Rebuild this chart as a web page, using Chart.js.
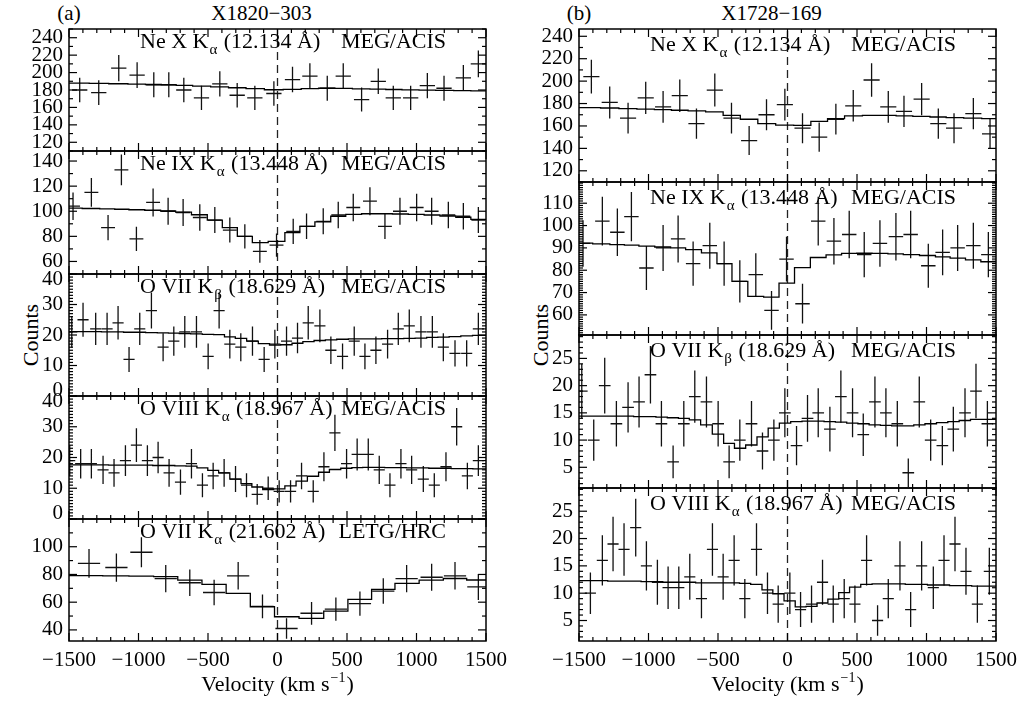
<!DOCTYPE html>
<html><head><meta charset="utf-8">
<script src="https://cdn.jsdelivr.net/npm/chart.js@4.4.1/dist/chart.umd.min.js"></script>
<style>
html,body{margin:0;padding:0;background:#fff;overflow:hidden;width:1026px;height:702px;}
#wrap{position:relative;width:1026px;height:702px;overflow:hidden;}
canvas{position:absolute;}
.t{position:absolute;font-family:'Liberation Serif',serif;font-size:21px;color:#000;white-space:nowrap;transform:translate(-50%,-50%);line-height:1;}
.v{font-size:22px;transform:translate(-50%,-50%) rotate(-90deg);}
</style></head><body><div id="wrap">
<div class="t" style="left:69px;top:13px">(a)</div>
<div class="t" style="left:261.5px;top:13px">X1820&#8722;303</div>
<div class="t" style="left:579px;top:13px">(b)</div>
<div class="t" style="left:771.5px;top:13px">X1728&#8722;169</div>
<div class="t v" style="left:31px;top:335px">Counts</div>
<div class="t v" style="left:541px;top:335px">Counts</div>
</div>
<script>
// ---------------- DATA ----------------
const xTicks = [-1500, -1000, -500, 0, 500, 1000, 1500];

// (a) X1820-303 — Ne X Ka
const A1_vel = [-1423,-1286,-1142,-1010,-890,-782,-674,-547,-415,-290,-163,-26,108,233,358,473,605,725,833,958,1078,1198,1337,1445];
const A1_counts = [180,177,205,197,186,186,180,171,187,174,171,176,192,196,182,196,169,190,171,171,185,182,194,210];
const A1_err = [14.2,14.1,15.1,14.8,14.4,14.4,14.2,13.9,14.5,14,13.9,14.1,14.7,14.8,14.3,14.8,13.8,14.6,13.9,13.9,14.4,14.3,14.7,15.3];
const A1_model = [188,187.6,187.2,186.8,186.3,185.8,185.2,184.5,183.6,182.6,181.5,180.3,180.8,181.6,182,181.8,181.4,181,180.6,180.2,179.9,179.6,179.3,179];
const A1_ticks = [120,140,160,180,200,220,240];

// (a) Ne IX Ka
const A2_vel = [-1471,-1339,-1219,-1123,-1015,-895,-787,-679,-559,-451,-343,-235,-127,-7,113,209,329,437,545,665,773,881,1001,1109,1229,1337,1445];
const A2_counts = [104,115,87,133,78,107,100,99,95,93,85,80,68,73,84,88,92,97,103,108,88,100,103,100,97,96,93];
const A2_err = [11,11.5,10.1,12.3,9.6,11.1,10.8,10.7,10.5,10.4,10,9.7,9,9.3,10,10.2,10.4,10.6,10.9,11.2,10.2,10.8,10.9,10.8,10.6,10.6,10.4];
const A2_model = [102.5,102.2,101.9,101.6,101.2,100.8,100.2,99.3,97.2,93,87,80,75,76,83,88,91.5,96,97.5,98,98,97.8,97.5,97,96.2,95.2,93.5];
const A2_ticks = [60,80,100,120,140];

// (a) O VII Kb
const A3_vel = [-1480,-1399,-1308,-1226,-1147,-1068,-991,-907,-823,-746,-667,-583,-499,-420,-343,-264,-180,-96,-19,65,144,221,305,384,468,552,629,708,792,869,948,1032,1114,1193,1277,1361,1445];
const A3_counts = [21,25,22,22,24,12,22,28,16,18,21,21,13,28,17,16,18,12,17,18,19,24,23,15,13,18,13,15,17,22,23,21,21,16,14,14,22];
const A3_err = [5.2,5.6,5.3,5.3,5.5,4.1,5.3,5.9,4.6,4.8,5.2,5.2,4.2,5.9,4.7,4.6,4.8,4.1,4.7,4.8,5,5.5,5.4,4.5,4.2,4.8,4.2,4.5,4.7,5.3,5.4,5.2,5.2,4.6,4.3,4.3,5.3];
const A3_model = [21.1,21.1,21.1,21,21,20.9,20.9,20.8,20.7,20.6,20.5,20.4,20.2,20.1,19.4,18.9,18,17.2,16.7,16.8,17.3,17.8,18.2,18.4,18.6,18.7,18.7,18.7,18.8,18.8,18.9,19,19.2,19.3,19.5,19.7,19.9];
const A3_ticks = [0,10,20,30,40];

// (a) O VIII Ka
const A4_vel = [-1495,-1416,-1339,-1255,-1176,-1094,-1015,-936,-859,-780,-698,-619,-540,-463,-384,-302,-223,-146,-67,12,94,173,257,334,413,497,573,653,732,809,888,965,1049,1128,1212,1289,1366,1445];
const A4_counts = [19,18,18,16,15,19,24,19,20,15,12,18,11,14,15,13,11,8,10,9,9,14,9,17,28,18,21,21,16,11,18,16,13,11,17,30,14,19];
const A4_err = [5,4.8,4.8,4.6,4.5,5,5.5,5,5.1,4.5,4.1,4.8,3.9,4.3,4.5,4.2,3.9,3.4,3.8,3.6,3.6,4.3,3.6,4.7,5.9,4.8,5.2,5.2,4.6,3.9,4.8,4.6,4.2,3.9,4.7,6.1,4.3,5];
const A4_model = [17.6,17.6,17.6,17.6,17.5,17.5,17.5,17.5,17.4,17.4,17.3,17.2,16.6,15.8,15,13,11.5,10.4,9.6,9.8,10.8,12.3,13.9,15.2,16.1,16.5,16.7,16.8,16.8,16.7,16.7,16.6,16.6,16.5,16.5,16.4,16.4,16.3];
const A4_ticks = [0,10,20,30,40];

// (a) O VII Ka LETG
const A5_vel = [-1356,-1159,-979,-804,-631,-456,-283,-108,65,245,420,593,761,929,1109,1277,1445];
const A5_counts = [88,85,96,77,74,67,79,57,41,52,55,59,68,77,78,79,71];
const A5_err = [10.4,10.2,10.8,9.8,9.6,9.2,9.9,8.5,7.4,8.2,8.4,8.7,9.2,9.8,9.8,9.9,9.4];
const A5_model = [79.2,79,78.8,78.4,75.9,72.8,66.3,56.7,49.5,48.3,53.6,62,69.2,73.5,75.9,77.1,76];
const A5_ticks = [40,60,80,100];

// (b) X1728-169 — Ne X Ka
const B1_vel = [-1411,-1279,-1147,-1020,-895,-775,-655,-523,-403,-276,-151,-19,108,228,348,473,605,725,838,965,1085,1198,1337,1457];
const B1_counts = [204,181,167,185,177,187,162,192,167,147,170,179,158,150,166,178,201,177,173,184,162,158,171,153];
const B1_err = [15.1,14.3,13.7,14.4,14.1,14.5,13.5,14.7,13.7,12.9,13.8,14.2,13.4,13.1,13.7,14.1,15,14.1,14,14.4,13.5,13.4,13.9,13.2];
const B1_model = [176.3,176,175.5,175,174.5,174,173.5,172.5,169.5,166,162,160.8,160.5,164,166.5,169,169.5,169.5,169,168.5,168,167.5,167,166.5];
const B1_ticks = [120,140,160,180,200,220,240];

// (b) Ne IX Ka
const B2_vel = [-1471,-1332,-1224,-1123,-1015,-895,-787,-679,-559,-456,-343,-228,-115,-7,108,221,334,444,552,665,780,886,1013,1116,1224,1337,1445];
const B2_counts = [92,102,97,104,81,90,94,83,91,83,75,78,62,85,65,102,93,96,87,92,95,96,82,88,90,91,87];
const B2_err = [10.4,10.9,10.6,11,9.8,10.3,10.5,9.9,10.3,9.9,9.5,9.6,8.7,10,8.9,10.9,10.4,10.6,10.1,10.4,10.6,10.6,9.9,10.2,10.3,10.3,10.1];
const B2_model = [92.1,91.8,91.5,91.2,90.8,90.4,90,89.2,87.8,83,75,68.3,68,74.2,81.2,85.7,86.9,87.5,87.6,87.5,87.3,87,86.6,86,85.4,84.6,83.8];
const B2_ticks = [60,70,80,90,100,110];

// (b) O VII Kb
const B3_vel = [-1480,-1394,-1315,-1231,-1147,-1068,-986,-907,-823,-746,-667,-583,-499,-420,-343,-259,-180,-98,-19,65,144,221,305,384,468,545,629,708,790,869,948,1030,1114,1193,1277,1356,1438];
const B3_counts = [19,10,20,13,16,17,22,13,6,13,18,17,13,6,10,13,8,10,15,9,14,15,12,18,15,11,17,15,13,4,17,10,9,12,15,19,13];
const B3_err = [5,3.8,5.1,4.2,4.6,4.7,5.3,4.2,3,4.2,4.8,4.7,4.2,3,3.8,4.2,3.4,3.8,4.5,3.6,4.3,4.5,4.1,4.8,4.5,3.9,4.7,4.5,4.2,2.6,4.7,3.8,3.6,4.1,4.5,5,4.2];
const B3_model = [14.4,14.4,14.4,14.4,14.4,14.3,14.3,14.2,14.1,14,13.7,12.8,11.1,9.4,8.5,9.1,10.6,12.2,13.1,13.4,13.5,13.5,13.4,13.3,13.1,13,12.8,12.7,12.6,12.6,12.8,13,13.2,13.4,13.6,13.8,13.8];
const B3_ticks = [5,10,15,20,25];

// (b) O VIII Ka
const B4_vel = [-1418,-1332,-1255,-1176,-1092,-1015,-936,-859,-782,-703,-619,-540,-463,-384,-307,-223,-144,-67,17,94,173,252,329,408,485,569,648,725,809,886,965,1049,1126,1205,1284,1366,1452];
const B4_counts = [10,16,19,18,22,15,12,11,11,13,9,18,13,16,9,18,10,8,10,7,8,12,8,9,8,16,5,9,15,7,15,11,16,19,14,8,14];
const B4_err = [3.8,4.6,5,4.8,5.3,4.5,4.1,3.9,3.9,4.2,3.6,4.8,4.2,4.6,3.6,4.8,3.8,3.4,3.8,3.2,3.4,4.1,3.4,3.6,3.4,4.6,2.8,3.6,4.5,3.2,4.5,3.9,4.6,5,4.3,3.4,4.3];
const B4_model = [12.3,12.3,12.2,12.2,12.2,12.1,12.1,12,12,12,11.9,11.9,11.9,11.9,11.8,11.6,10.6,9.9,8.6,7.5,7.6,8.2,8.9,10.1,11.1,11.6,11.7,11.7,11.7,11.6,11.6,11.5,11.5,11.4,11.4,11.3,11.3];
const B4_ticks = [5,10,15,20,25];

// ---------------- PANELS ----------------
const panels = [
  {col:0,row:0,vel:A1_vel,counts:A1_counts,err:A1_err,model:A1_model,ticks:A1_ticks,ymin:110,ymax:250,minor:10,half:55,label:['Ne X K','\u03b1',' (12.134 \u00c5)','MEG/ACIS']},
  {col:0,row:1,vel:A2_vel,counts:A2_counts,err:A2_err,model:A2_model,ticks:A2_ticks,ymin:50,ymax:148,minor:10,half:50,label:['Ne IX K','\u03b1',' (13.448 \u00c5)','MEG/ACIS']},
  {col:0,row:2,vel:A3_vel,counts:A3_counts,err:A3_err,model:A3_model,ticks:A3_ticks,ymin:0,ymax:40,minor:1,half:40,label:['O VII K','\u03b2',' (18.629 \u00c5)','MEG/ACIS']},
  {col:0,row:3,vel:A4_vel,counts:A4_counts,err:A4_err,model:A4_model,ticks:A4_ticks,ymin:0,ymax:40,minor:1,half:40,label:['O VIII K','\u03b1',' (18.967 \u00c5)','MEG/ACIS']},
  {col:0,row:4,vel:A5_vel,counts:A5_counts,err:A5_err,model:A5_model,ticks:A5_ticks,ymin:32,ymax:120,minor:10,half:80,label:['O VII K','\u03b1',' (21.602 \u00c5)','LETG/HRC']},
  {col:1,row:0,vel:B1_vel,counts:B1_counts,err:B1_err,model:B1_model,ticks:B1_ticks,ymin:110,ymax:246.5,minor:10,half:58,label:['Ne X K','\u03b1',' (12.134 \u00c5)','MEG/ACIS']},
  {col:1,row:1,vel:B2_vel,counts:B2_counts,err:B2_err,model:B2_model,ticks:B2_ticks,ymin:51,ymax:119.5,minor:1,half:52,label:['Ne IX K','\u03b1',' (13.448 \u00c5)','MEG/ACIS']},
  {col:1,row:2,vel:B3_vel,counts:B3_counts,err:B3_err,model:B3_model,ticks:B3_ticks,ymin:1.2,ymax:29.3,minor:1,half:42,label:['O VII K','\u03b2',' (18.629 \u00c5)','MEG/ACIS']},
  {col:1,row:3,vel:B4_vel,counts:B4_counts,err:B4_err,model:B4_model,ticks:B4_ticks,ymin:1.25,ymax:29.25,minor:1,half:40,label:['O VIII K','\u03b1',' (18.967 \u00c5)','MEG/ACIS']}
];

// ---------------- LAYOUT ----------------
const COL_X = [69, 579];
const PLOT_W = 417;
const TOPS = [[29,151,274,396,519,641],[29,182,335,488,641]];
const FONT = "'Liberation Serif', serif";
Chart.defaults.font.family = FONT;
Chart.defaults.color = '#000';

const framePlugin = {
  id: 'frame',
  afterDraw(chart, args, o) {
    const {ctx, chartArea: a, scales: {x, y}} = chart;
    ctx.save();
    ctx.strokeStyle = '#000';
    ctx.lineWidth = 1.2;
    const seg = (x1, y1, x2, y2) => { ctx.beginPath(); ctx.moveTo(x1, y1); ctx.lineTo(x2, y2); ctx.stroke(); };
    for (let k = -15; k <= 15; k++) {
      const px = x.getPixelForValue(k * 100);
      const L = (k % 5 === 0) ? 8 : 4;
      seg(px, a.top, px, a.top + L);
      seg(px, a.bottom, px, a.bottom - L);
    }
    const k0 = Math.ceil(o.ymin / o.minor - 1e-9), k1 = Math.floor(o.ymax / o.minor + 1e-9);
    for (let k = k0; k <= k1; k++) {
      const v = k * o.minor;
      const py = y.getPixelForValue(v);
      const major = o.ticks.some(t => Math.abs(t - v) < 1e-6);
      const L = major ? 8 : 4;
      seg(a.left, py, a.left + L, py);
      seg(a.right, py, a.right - L, py);
    }
    ctx.lineWidth = 1.5;
    ctx.strokeRect(a.left, a.top, a.right - a.left, a.bottom - a.top);
    ctx.fillStyle = '#000';
    ctx.textBaseline = 'middle';
    // panel label
    const [pre, sub, post, instr] = o.label;
    const ly = a.top + (a.bottom - a.top) * 0.105;
    let lx = a.left + 71;
    ctx.textAlign = 'left';
    ctx.font = '22px ' + FONT;
    ctx.fillText(pre, lx, ly); lx += ctx.measureText(pre).width;
    ctx.font = '15px ' + FONT;
    ctx.fillText(sub, lx + 1, ly + 8); lx += ctx.measureText(sub).width + 2;
    ctx.font = '22px ' + FONT;
    ctx.fillText(post, lx, ly);
    ctx.textAlign = 'right';
    ctx.fillText(instr, a.left + 377, ly);
    // x-axis title on bottom panels
    if (o.xtitle) {
      const p1 = 'Velocity (km s', p2 = '\u22121', p3 = ')';
      ctx.font = '22px ' + FONT; const w1 = ctx.measureText(p1).width, w3 = ctx.measureText(p3).width;
      ctx.font = '14px ' + FONT; const w2 = ctx.measureText(p2).width;
      const ty = a.bottom + 44;
      let tx = (a.left + a.right) / 2 - (w1 + w2 + w3 + 2) / 2;
      ctx.textAlign = 'left';
      ctx.font = '22px ' + FONT; ctx.fillText(p1, tx, ty); tx += w1 + 1;
      ctx.font = '14px ' + FONT; ctx.fillText(p2, tx, ty - 7); tx += w2 + 1;
      ctx.font = '22px ' + FONT; ctx.fillText(p3, tx, ty);
    }
    ctx.restore();
  }
};

const wrap = document.getElementById('wrap');
panels.forEach(p => {
  const tops = TOPS[p.col];
  const top = tops[p.row], h = tops[p.row + 1] - top;
  const last = p.row === tops.length - 2;
  const PADT = 20, PADB = last ? 0 : 20, YW = 65, PADR = 35, XH = last ? 60 : 0;
  const W = YW + PLOT_W + PADR, H = PADT + h + PADB + XH;
  const cv = document.createElement('canvas');
  cv.width = W; cv.height = H;
  cv.style.left = (COL_X[p.col] - YW) + 'px';
  cv.style.top = (top - PADT) + 'px';
  cv.style.width = W + 'px'; cv.style.height = H + 'px';
  wrap.appendChild(cv);

  const modelData = [{x: -1500, y: p.model[0]}]
    .concat(p.vel.map((v, i) => ({x: v, y: p.model[i]})))
    .concat([{x: 1500, y: p.model[p.model.length - 1]}]);
  const errData = [];
  p.vel.forEach((v, i) => {
    const c = p.counts[i], e = p.err[i];
    errData.push({x: v, y: c - e}, {x: v, y: c + e}, {x: v, y: null});
    errData.push({x: v - p.half, y: c}, {x: v + p.half, y: c}, {x: v + p.half, y: null});
  });
  const edge = v => (Math.abs(v - p.ymax) < 1e-6) ? 'top' : (Math.abs(v - p.ymin) < 1e-6 ? 'bottom' : null);

  new Chart(cv, {
    type: 'line',
    data: {datasets: [
      {data: modelData, stepped: 'middle', borderColor: '#000', borderWidth: 1.3, pointRadius: 0, fill: false},
      {data: errData, borderColor: '#111', borderWidth: 1.3, pointRadius: 0, spanGaps: false, fill: false, tension: 0},
      {data: [{x: 0, y: p.ymin}, {x: 0, y: p.ymax}], borderColor: '#222', borderWidth: 1.3, borderDash: [8, 5], pointRadius: 0, fill: false}
    ]},
    options: {
      responsive: false, animation: false, devicePixelRatio: 1, events: [],
      layout: {padding: {top: PADT, bottom: PADB, left: 0, right: PADR}},
      plugins: {legend: {display: false}, tooltip: {enabled: false},
        frame: {ymin: p.ymin, ymax: p.ymax, minor: p.minor, ticks: p.ticks, label: p.label, xtitle: last}},
      scales: {
        x: {type: 'linear', min: -1500, max: 1500,
          grid: {display: false, drawTicks: false}, border: {display: false},
          afterBuildTicks: s => { s.ticks = xTicks.map(v => ({value: v})); },
          afterFit: s => { s.height = XH; },
          ticks: {display: last, padding: 7, font: {size: 21, family: FONT}, color: '#000',
            maxRotation: 0, autoSkip: false,
            callback: v => (v < 0 ? '\u2212' + Math.abs(v) : String(v))}
        },
        y: {type: 'linear', min: p.ymin, max: p.ymax,
          grid: {display: false, drawTicks: false}, border: {display: false},
          afterBuildTicks: s => { s.ticks = p.ticks.map(v => ({value: v})); },
          afterFit: s => { s.width = YW; },
          ticks: {padding: 6, color: '#000', autoSkip: false,
            font: ctx => (ctx.tick && edge(ctx.tick.value)) ? {size: 21, family: FONT, lineHeight: '11px'} : {size: 21, family: FONT},
            callback: v => { const e = edge(v); const s = String(v); return e === 'top' ? ['', s] : (e === 'bottom' ? [s, ''] : s); }}
        }
      }
    },
    plugins: [framePlugin]
  });
});
</script>
</body></html>
